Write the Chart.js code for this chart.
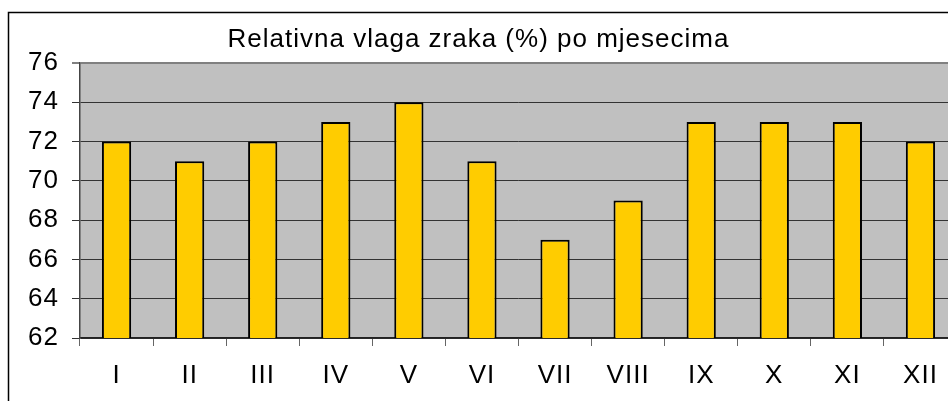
<!DOCTYPE html>
<html>
<head>
<meta charset="utf-8">
<script src="https://cdn.jsdelivr.net/npm/chart.js@4/dist/chart.umd.min.js"></script>
<style>
  html, body { margin: 0; padding: 0; overflow: hidden; background: #fff; }
  #wrap { position: absolute; left: 0; top: 0; width: 980px; height: 420px; }
</style>
</head>
<body>
<div id="wrap"><canvas id="c" width="980" height="420"></canvas></div>
<script>
// podaci
const mjeseci = ["I", "II", "III", "IV", "V", "VI", "VII", "VIII", "IX", "X", "XI", "XII"];
const vlaga = [72, 71, 72, 73, 74, 71, 67, 69, 73, 73, 73, 72];
const naslov = "Relativna vlaga zraka (%) po mjesecima";
const yMin = 62, yMax = 76, yKorak = 2;

// siva pozadina + okvir oko cijelog grafikona
const pozadina = {
  id: 'pozadina',
  beforeDraw(chart) {
    const { ctx, chartArea: a } = chart;
    ctx.letterSpacing = '1px';
    ctx.save();
    ctx.fillStyle = '#C0C0C0';
    ctx.fillRect(a.left, a.top, a.right - a.left, a.bottom - a.top);
    ctx.strokeStyle = '#000';
    ctx.lineWidth = 1.5;
    ctx.strokeRect(8.5, 12.5, 2000, 2000);
    ctx.restore();
  }
};

new Chart(document.getElementById('c'), {
  type: 'bar',
  data: {
    labels: mjeseci,
    datasets: [{
      data: vlaga,
      backgroundColor: '#FFCC00',
      borderColor: '#000',
      borderWidth: 2,
      borderSkipped: false,
      categoryPercentage: 1,
      barPercentage: 0.4
    }]
  },
  options: {
    responsive: false,
    animation: false,
    layout: { padding: { left: 0, right: 23, top: 0, bottom: 0 } },
    plugins: {
      legend: { display: false },
      tooltip: { enabled: false },
      title: {
        display: true,
        text: naslov,
        color: '#000',
        font: { family: 'Liberation Sans', size: 26, weight: 'normal' },
        padding: { top: 24, bottom: 7.8 }
      }
    },
    scales: {
      x: {
        offset: true,
        afterFit(s) { s.height = 82; },
        grid: { drawOnChartArea: false, offset: true, drawTicks: true, tickLength: 8, color: '#666' },
        border: { color: '#222', width: 1.5 },
        ticks: { color: '#000', padding: 14, font: { family: 'Liberation Sans', size: 26 } }
      },
      y: {
        min: yMin,
        max: yMax,
        afterFit(s) { s.width = 80; },
        grid: {
          color: c => c.tick && c.tick.value === yMax ? '#808080' : '#333',
          lineWidth: c => c.tick && c.tick.value === yMax ? 2 : 1,
          tickLength: 8,
          drawTicks: true
        },
        border: { color: '#444', width: 1.5 },
        ticks: { stepSize: yKorak, color: '#000', padding: 13, font: { family: 'Liberation Sans', size: 26 } }
      }
    }
  },
  plugins: [pozadina]
});
</script>
</body>
</html>
